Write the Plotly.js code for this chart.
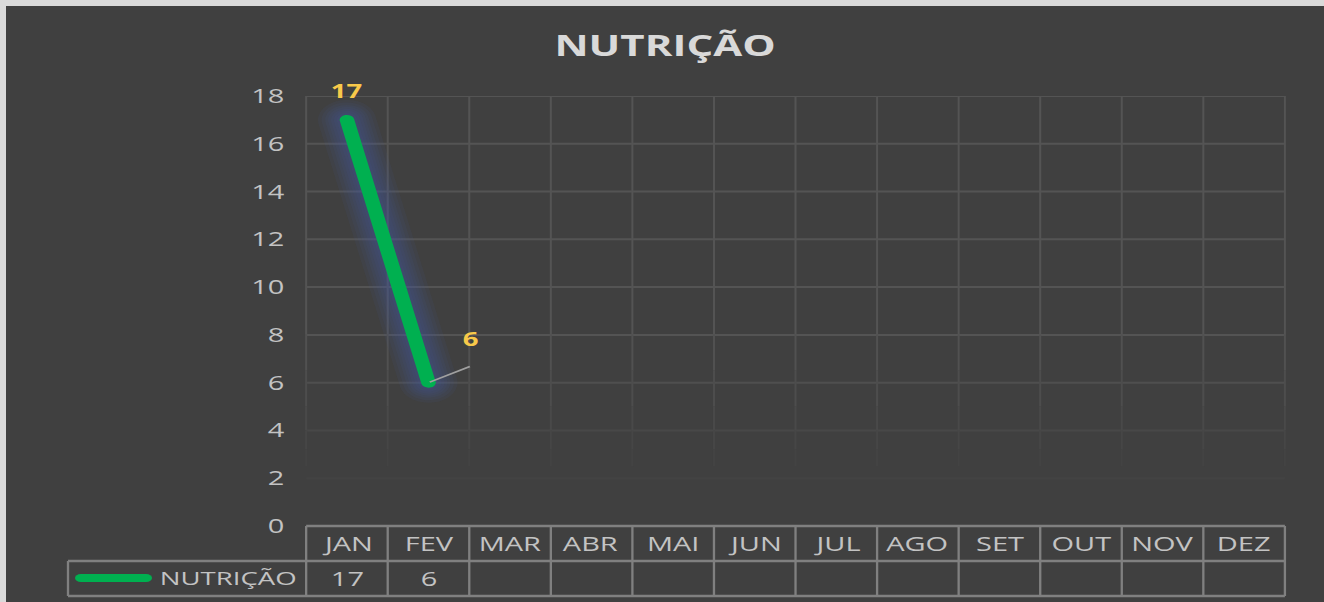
<!DOCTYPE html>
<html>
<head>
<meta charset="utf-8">
<script src="https://cdn.plot.ly/plotly-3.0.1.min.js"></script>
<style>
  html, body { margin: 0; padding: 0; background: #dadada; width: 1324px; height: 602px; overflow: hidden; }
  #frame { position: absolute; left: 6px; top: 6px; width: 1318px; height: 596px; background: #404040; overflow: hidden; }
  #chart { position: absolute; left: 0; top: 0; transform-origin: 0 0; }
  .scatterlayer .js-line { stroke-linecap: round; stroke-linejoin: round; }
  .shapelayer path[style*="rgb(0, 176, 80)"] { stroke-linecap: round; }
</style>
</head>
<body>
<div id="frame"><div id="chart"></div></div>
<script>
// ---- data ----
const months = ["JAN","FEV","MAR","ABR","MAI","JUN","JUL","AGO","SET","OUT","NOV","DEZ"];
const values = [17, 6, null, null, null, null, null, null, null, null, null, null];
const seriesName = "NUTRIÇÃO";
const chartTitle = "NUTRIÇÃO";
const yTicks = [0, 2, 4, 6, 8, 10, 12, 14, 16, 18];

// ---- geometry (Excel export is horizontally stretched) ----
const S = 1.45;
const W = Math.round(1318 / S);
const H = 596;
const ML = 207, MR = W - 882, MT = 90, MB = 76;
const plotW = W - ML - MR, plotH = H - MT - MB;
document.getElementById('chart').style.transform = 'scaleX(' + S + ')';

const px2py = p => (H - MB - p) / plotH;           // div pixel y -> paper y
const ux2px = u => (u - ML) / plotW;                // unscaled x -> paper x
const rowTop = 0, rowMid = px2py(555), rowBot = px2py(590);
const legLeft = ux2px(62 / S);

const fontFam = "'Open Sans', 'Noto Sans', sans-serif";
const txt = '#c3c3c3';
const border = '#808080';

const shapes = [];
// fading gridlines
const gridColor = v => v >= 8 ? '#545454' : v === 6 ? '#4f4f4f' : v === 4 ? '#484848' : '#434343';
yTicks.filter(v => v > 0).forEach(v => {
  shapes.push({type:'line', layer:'below', xref:'paper', yref:'y', x0:0, x1:1, y0:v, y1:v,
               line:{color:gridColor(v), width:2}});
});
const segs = [[18,8,'#545454'],[8,6.5,'#515151'],[6.5,5,'#4d4d4d'],[5,4,'#494949'],[4,3.2,'#464646'],[3.2,2.5,'#434343']];
for (let i = 0; i <= months.length; i++) {
  segs.forEach(s => shapes.push({type:'line', layer:'below', xref:'paper', yref:'y',
    x0:i/months.length, x1:i/months.length, y0:s[0], y1:s[1], line:{color:s[2], width:1.4}}));
}
// data table
shapes.push({type:'line', layer:'above', xref:'paper', yref:'paper', x0:0, x1:1, y0:rowTop, y1:rowTop, line:{color:border, width:2.4}});
shapes.push({type:'line', layer:'above', xref:'paper', yref:'paper', x0:legLeft, x1:1, y0:rowMid, y1:rowMid, line:{color:border, width:2.4}});
shapes.push({type:'line', layer:'above', xref:'paper', yref:'paper', x0:legLeft, x1:1, y0:rowBot, y1:rowBot, line:{color:border, width:2.4}});
for (let i = 0; i <= months.length; i++) {
  shapes.push({type:'line', layer:'above', xref:'paper', yref:'paper', x0:i/months.length, x1:i/months.length,
               y0:rowTop, y1:rowBot, line:{color:border, width:1.6}});
}
shapes.push({type:'line', layer:'above', xref:'paper', yref:'paper', x0:legLeft, x1:legLeft, y0:rowMid, y1:rowBot, line:{color:border, width:1.6}});
// legend key in table
const keyY = px2py(572);
shapes.push({type:'line', layer:'above', xref:'paper', yref:'paper', x0:ux2px(51.6), x1:ux2px(96.7), y0:keyY, y1:keyY,
             line:{color:'#00b050', width:8}});

const annotations = [];
const hdrY = px2py(537.5), datY = px2py(572);
months.forEach((m, i) => {
  annotations.push({xref:'x', yref:'paper', x:m, y:hdrY, text:m, showarrow:false, yanchor:'middle',
                    font:{family:fontFam, size:20, color:txt}});
  if (values[i] !== null) {
    annotations.push({xref:'x', yref:'paper', x:m, y:datY, text:String(values[i]), showarrow:false, yanchor:'middle',
                      font:{family:fontFam, size:20, color:txt}});
  }
});
annotations.push({xref:'paper', yref:'paper', x:ux2px(202), y:datY, text:seriesName, showarrow:false,
                  xanchor:'right', yanchor:'middle', font:{family:fontFam, size:19, color:txt}});
// data labels
const lblFont = {family:fontFam, size:19, color:'#f8c94a', weight:'bold'};
annotations.push({xref:'x', yref:'y', x:months[0], y:values[0], text:'<b>' + values[0] + '</b>', showarrow:false,
                  yshift:29, font:lblFont});
annotations.push({xref:'x', yref:'y', x:months[1], y:values[1], text:' ', showarrow:true, arrowhead:0,
                  arrowcolor:'#a0a0a0', arrowwidth:1.5, ax:30, ay:-17, standoff:1, font:{size:1}});
annotations.push({xref:'x', yref:'y', x:months[1], y:values[1], text:'<b>' + values[1] + '</b>', showarrow:false,
                  xshift:29, yshift:44, font:lblFont});

// soft glow: several translucent layers
const glowWidths = [40, 35, 30, 26, 22, 18, 14];
const traces = glowWidths.map(w => ({x:months, y:values, type:'scatter', mode:'lines', hoverinfo:'skip', showlegend:false,
   line:{color:'rgba(65,95,165,0.085)', width:w}}));
traces.push({x:months, y:values, type:'scatter', mode:'lines', name:seriesName, showlegend:false,
   line:{color:'#00b050', width:10}});

const layout = {
  width: W, height: H,
  margin: {l:ML, r:MR, t:MT, b:MB, pad:0},
  paper_bgcolor: '#404040', plot_bgcolor: '#404040',
  title: {text:'<b>' + chartTitle + '</b>', x:0.5, xanchor:'center', y:1 - 40/H, yanchor:'middle', yref:'container',
          font:{family:fontFam, size:29, color:'#d9d9d9'}},
  xaxis: {type:'category', categoryorder:'array', categoryarray:months, range:[-0.5, months.length - 0.5],
          showticklabels:false, showgrid:false, zeroline:false, showline:false, ticks:'', fixedrange:true},
  yaxis: {range:[0, 18], tickvals:yTicks, showgrid:false, zeroline:false, showline:false, ticks:'',
          ticklabelstandoff:14, tickfont:{family:fontFam, size:20, color:txt}, fixedrange:true},
  shapes: shapes,
  annotations: annotations,
  showlegend: false
};

Plotly.newPlot('chart', traces, layout, {staticPlot:true, displayModeBar:false});
</script>
</body>
</html>
